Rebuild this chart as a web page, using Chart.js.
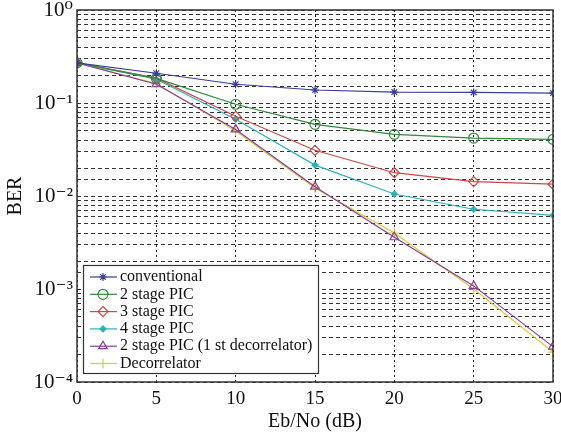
<!DOCTYPE html>
<html><head><meta charset="utf-8">
<script src="https://cdn.jsdelivr.net/npm/chart.js@4"></script>
<style>html,body{margin:0;background:#fff}#wrap{width:561px;height:432px}</style>
</head><body><div id="wrap"><canvas id="c"></canvas></div>
<script>
// BER vs Eb/No —— 几种 PIC 检测器对比
const snr=[0,5,10,15,20,25,30];
const berConv =[0.27,0.209,0.159,0.138,0.131,0.130,0.128];
const berPic2 =[0.27,0.184,0.097,0.059,0.046,0.042,0.0406];
const berPic3 =[0.27,0.185,0.072,0.031,0.0178,0.0143,0.0134];
const berPic4 =[0.27,0.180,0.067,0.0215,0.0105,0.0072,0.0062];
const berPic2d=[0.27,0.159,0.052,0.0126,0.0036,0.00108,0.00024];
const berDec  =[0.27,0.162,0.050,0.0122,0.0040,0.00100,0.00021];
const yMajor=[1e-4,1e-3,1e-2,1e-1,1];
const SERIF='"Liberation Serif","DejaVu Serif",serif';

const SUP={'0':'⁰','1':'¹','2':'²','3':'³','4':'⁴','-':'⁻'};
function pow10Label(v){
  const e=Math.round(Math.log10(v));
  if(!yMajor.some(m=>Math.abs(m-v)/m<1e-6)) return '';
  return '10'+String(e).split('').map(c=>SUP[c]).join('');
}

function ds(label,data,color,style,fill,r){
  return {label,data:snr.map((x,i)=>({x,y:data[i]})),borderColor:color,borderWidth:1.2,
    pointStyle:style,pointRadius:r,pointBorderWidth:1.2,pointBorderColor:color,
    pointBackgroundColor:fill?color:'rgba(0,0,0,0)',tension:0,fill:false};
}

// 边框
const frame={id:'frame',afterDraw(chart){
  const a=chart.chartArea,ctx=chart.ctx;
  ctx.save();ctx.strokeStyle='#333';ctx.lineWidth=1.5;
  ctx.strokeRect(a.left,a.top,a.right-a.left,a.bottom-a.top);ctx.restore();
}};

// 图内左下角图例
const boxLegend={id:'boxLegend',afterDatasetsDraw(chart){
  const ctx=chart.ctx,a=chart.chartArea;
  const x0=a.left+6,y0=a.bottom-117,w=235,h=108;
  ctx.save();
  ctx.fillStyle='#fff';ctx.fillRect(x0,y0,w,h);
  ctx.strokeStyle='#333';ctx.lineWidth=1.2;ctx.strokeRect(x0+.5,y0+.5,w,h);
  ctx.font='16px '+SERIF;ctx.textBaseline='middle';
  chart.data.datasets.forEach((d,i)=>{
    const y=y0+12+i*17.3;
    ctx.strokeStyle=d.borderColor;ctx.lineWidth=1.2;
    ctx.beginPath();ctx.moveTo(x0+7,y);ctx.lineTo(x0+34,y);ctx.stroke();
    ctx.fillStyle=d.pointBackgroundColor;
    Chart.helpers.drawPoint(ctx,{pointStyle:d.pointStyle,radius:d.pointRadius,borderWidth:1.2,rotation:0},x0+20,y);
    ctx.fillStyle='#111';ctx.fillText(d.label,x0+37,y);
  });
  ctx.restore();
}};

new Chart(document.getElementById('c'),{
  type:'line',
  data:{datasets:[
    ds('conventional',berConv,'#3c3c9c','star',false,4),
    ds('2 stage PIC',berPic2,'#2f8a3c','circle',false,5),
    ds('3 stage PIC',berPic3,'#c84a4a','rectRot',false,5),
    ds('4 stage PIC',berPic4,'#2eb2b6','rectRot',true,3),
    ds('2 stage PIC (1 st decorrelator)',berPic2d,'#8a3c9c','triangle',false,5),
    ds('Decorrelator',berDec,'#d8cc3c','cross',false,5),
  ]},
  options:{responsive:true,maintainAspectRatio:false,animation:false,
    layout:{padding:0},
    plugins:{legend:{display:false},tooltip:{enabled:false}},
    scales:{
      x:{type:'linear',min:0,max:30,
        afterFit(s){s.height=50;s.paddingRight=8;s.paddingLeft=0;},
        ticks:{stepSize:5,color:'#111',padding:6,font:{family:SERIF,size:19}},
        grid:{color:'#222',lineWidth:1,drawTicks:false},
        border:{display:false,dash:[2,3]},
        title:{display:true,text:'Eb/No (dB)',color:'#111',font:{family:SERIF,size:20},padding:{top:0,bottom:-2}}},
      y:{type:'logarithmic',min:1e-4,max:1,
        afterFit(s){s.width=77;s.paddingTop=10;s.paddingBottom=0;},
        ticks:{autoSkip:false,color:'#111',padding:4,font:{family:SERIF,size:21},callback:v=>pow10Label(v)},
        grid:{color:'#333',lineWidth:1,drawTicks:false},
        border:{display:false,dash:[4,3]},
        title:{display:true,text:'BER',color:'#111',font:{family:SERIF,size:20},padding:{top:4,bottom:2}}}
    }},
  plugins:[frame,boxLegend]
});
</script></body></html>
